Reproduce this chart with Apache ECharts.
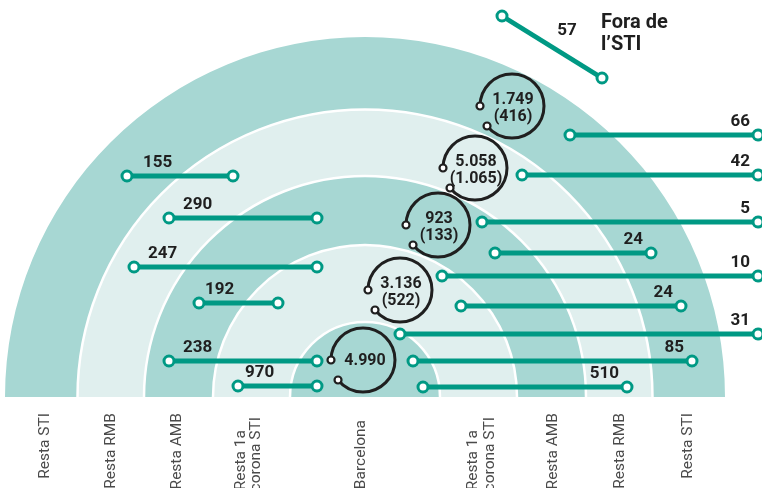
<!DOCTYPE html>
<html>
<head>
<meta charset="utf-8">
<script src="https://cdn.jsdelivr.net/npm/echarts@6/dist/echarts.min.js"></script>
<style>
html,body{margin:0;padding:0;background:#fff;}
#chart{width:762px;height:488px;}
</style>
</head>
<body>
<div id="chart"></div>
<script>
// ---- data (units: chart units, origin at the centre of the rings) ----
const ringRadii = [75, 152, 221, 287.5, 360];

const leftFlowValues = [155, 290, 247, 192, 238, 970];
const leftFlowFrom   = [-238, -196, -231, -166, -196, -127];
const leftFlowTo     = [-132, -48, -48, -87, -48, -48];
const leftFlowLevel  = [221, 179, 130, 94, 36, 11];
const leftLabelAt    = [-222, -182, -217, -160, -182, -120];

const rightFlowValues = [66, 42, 5, 24, 10, 24, 31, 85, 510];
const rightFlowFrom   = [205, 157, 117, 130, 77, 96, 35, 48, 58];
const rightFlowTo     = [393, 393, 393, 286, 393, 316, 393, 327, 262];
const rightFlowLevel  = [262, 222, 175, 144, 121, 91, 63, 36, 10];

const outsideValues  = [57];
const outsideFrom    = [[137, 381]];
const outsideTo      = [[237, 319]];
const outsideLabelAt = [[202, 366]];

const internalTotals = ['1.749', '5.058', '923', '3.136', '4.990'];
const internalSub    = ['(416)', '(1.065)', '(133)', '(522)', ''];
const internalCentre = [[147, 291], [110, 229], [73, 172], [35, 107], [-2, 37]];
const loopRadius = 32;

const zoneNames  = ['Resta STI', 'Resta RMB', 'Resta AMB', 'Resta 1a', 'corona STI', 'Barcelona',
                    'Resta 1a', 'corona STI', 'Resta AMB', 'Resta RMB', 'Resta STI'];
const zoneNameX  = [-320, -254, -188, -124, -109, -4, 108, 125, 188, 255, 323];
const zoneNameY  = [-16, -16, -16, -33, -20, -23, -33, -20, -16, -16, -16];

// ---- styles ----
const TEAL = '#009984';
const DARK = '#a7d7d3';
const LIGHT = '#e0efee';
const INK = '#1f1f1f';
const NUM_FONT = 'bold 17px Roboto';
const LOOP_FONT = 'bold 16px Roboto';

function endpoint(p) {
  return {type: 'circle', shape: {cx: p[0], cy: p[1], r: 5},
          style: {fill: '#fff', stroke: TEAL, lineWidth: 3}};
}

const chart = echarts.init(document.getElementById('chart'), null, {renderer: 'canvas'});

chart.setOption({
  animation: false,
  grid: {left: 0, right: 0, top: 0, bottom: 0},
  xAxis: {type: 'value', min: -365, max: 397, show: false},
  yAxis: {type: 'value', min: -91, max: 397, show: false},
  title: {
    text: 'Fora de\nl\u2019STI', left: 601, top: 12, padding: 0,
    textStyle: {fontFamily: 'Roboto', fontWeight: 'bold', fontSize: 20, lineHeight: 22, color: INK}
  },
  series: [
    { // rings
      type: 'custom', clip: false, z: 1,
      data: ringRadii.map((r, i) => [i === 0 ? 0 : ringRadii[i - 1], r]),
      renderItem: function (params, api) {
        const c = api.coord([0, 0]);
        const r0 = api.size([api.value(0), 0])[0];
        const r1 = api.size([api.value(1), 0])[0];
        const children = [{
          type: 'sector',
          shape: {cx: c[0], cy: c[1], r0: r0, r: r1, startAngle: Math.PI, endAngle: 2 * Math.PI, clockwise: true},
          style: {fill: params.dataIndex % 2 === 0 ? DARK : LIGHT}
        }];
        if (params.dataIndex < ringRadii.length - 1) {
          children.push({
            type: 'arc', z2: 5,
            shape: {cx: c[0], cy: c[1], r: r1, startAngle: Math.PI, endAngle: 2 * Math.PI, clockwise: true},
            style: {stroke: '#fff', lineWidth: 2.5, fill: null}
          });
        }
        return {type: 'group', children: children};
      }
    },
    { // flows into Barcelona from the left
      type: 'custom', clip: false, z: 3,
      data: leftFlowValues.map((v, i) => [leftFlowFrom[i], leftFlowLevel[i], leftFlowTo[i], leftLabelAt[i], v]),
      renderItem: function (params, api) {
        const a = api.coord([api.value(0), api.value(1)]);
        const b = api.coord([api.value(2), api.value(1)]);
        const l = api.coord([api.value(3), api.value(1)]);
        return {type: 'group', children: [
          {type: 'line', shape: {x1: a[0], y1: a[1], x2: b[0], y2: b[1]}, style: {stroke: TEAL, lineWidth: 5}},
          endpoint(a), endpoint(b),
          {type: 'text', x: l[0], y: l[1] - 13,
           style: {text: String(api.value(4)), font: NUM_FONT, fill: INK, align: 'left', verticalAlign: 'middle'}}
        ]};
      }
    },
    { // flows out of Barcelona to the right
      type: 'custom', clip: false, z: 3,
      data: rightFlowValues.map((v, i) => [rightFlowFrom[i], rightFlowLevel[i], rightFlowTo[i], v]),
      renderItem: function (params, api) {
        const a = api.coord([api.value(0), api.value(1)]);
        const b = api.coord([api.value(2), api.value(1)]);
        return {type: 'group', children: [
          {type: 'line', shape: {x1: a[0], y1: a[1], x2: b[0], y2: b[1]}, style: {stroke: TEAL, lineWidth: 5}},
          endpoint(a), endpoint(b),
          {type: 'text', x: b[0] - 8, y: b[1] - 13,
           style: {text: String(api.value(3)), font: NUM_FONT, fill: INK, align: 'right', verticalAlign: 'middle'}}
        ]};
      }
    },
    { // flow outside the STI
      type: 'custom', clip: false, z: 3,
      data: outsideValues.map((v, i) => [outsideFrom[i][0], outsideFrom[i][1], outsideTo[i][0], outsideTo[i][1],
                                         outsideLabelAt[i][0], outsideLabelAt[i][1], v]),
      renderItem: function (params, api) {
        const a = api.coord([api.value(0), api.value(1)]);
        const b = api.coord([api.value(2), api.value(3)]);
        const l = api.coord([api.value(4), api.value(5)]);
        return {type: 'group', children: [
          {type: 'line', shape: {x1: a[0], y1: a[1], x2: b[0], y2: b[1]}, style: {stroke: TEAL, lineWidth: 5}},
          endpoint(a), endpoint(b),
          {type: 'text', x: l[0], y: l[1],
           style: {text: String(api.value(6)), font: NUM_FONT, fill: INK, align: 'center', verticalAlign: 'middle'}}
        ]};
      }
    },
    { // internal flows (loops)
      type: 'custom', clip: false, z: 4,
      data: internalCentre.map((c) => [c[0], c[1], loopRadius]),
      renderItem: function (params, api) {
        const c = api.coord([api.value(0), api.value(1)]);
        const r = api.size([api.value(2), 0])[0];
        const endA = 2.466;
        const pA = [c[0] - r, c[1]];
        const pB = [c[0] + r * Math.cos(endA), c[1] + r * Math.sin(endA)];
        const sub = internalSub[params.dataIndex];
        const dot = (p) => ({type: 'circle', shape: {cx: p[0], cy: p[1], r: 3.5},
                             style: {fill: '#fff', stroke: INK, lineWidth: 2.2}});
        const children = [
          {type: 'arc', shape: {cx: c[0], cy: c[1], r: r, startAngle: Math.PI, endAngle: 2 * Math.PI + endA, clockwise: true},
           style: {stroke: INK, lineWidth: 3, fill: null}},
          dot(pA), dot(pB)
        ];
        if (sub) {
          children.push({type: 'text', x: c[0] + 1, y: c[1] - 6,
            style: {text: internalTotals[params.dataIndex], font: LOOP_FONT, fill: INK, align: 'center', verticalAlign: 'middle'}});
          children.push({type: 'text', x: c[0] + 1, y: c[1] + 11,
            style: {text: sub, font: LOOP_FONT, fill: INK, align: 'center', verticalAlign: 'middle'}});
        } else {
          children.push({type: 'text', x: c[0] + 2, y: c[1] + 1,
            style: {text: internalTotals[params.dataIndex], font: LOOP_FONT, fill: INK, align: 'center', verticalAlign: 'middle'}});
        }
        return {type: 'group', children: children};
      }
    },
    { // zone names under the baseline
      type: 'custom', clip: false, z: 2,
      data: zoneNames.map((n, i) => [zoneNameX[i], zoneNameY[i]]),
      renderItem: function (params, api) {
        const p = api.coord([api.value(0), api.value(1)]);
        return {type: 'text', x: p[0], y: p[1], rotation: Math.PI / 2,
          style: {text: zoneNames[params.dataIndex], font: '15.5px Roboto', fill: '#4a4a4a',
                  align: 'right', verticalAlign: 'middle'}};
      }
    }
  ]
});
</script>
</body>
</html>
